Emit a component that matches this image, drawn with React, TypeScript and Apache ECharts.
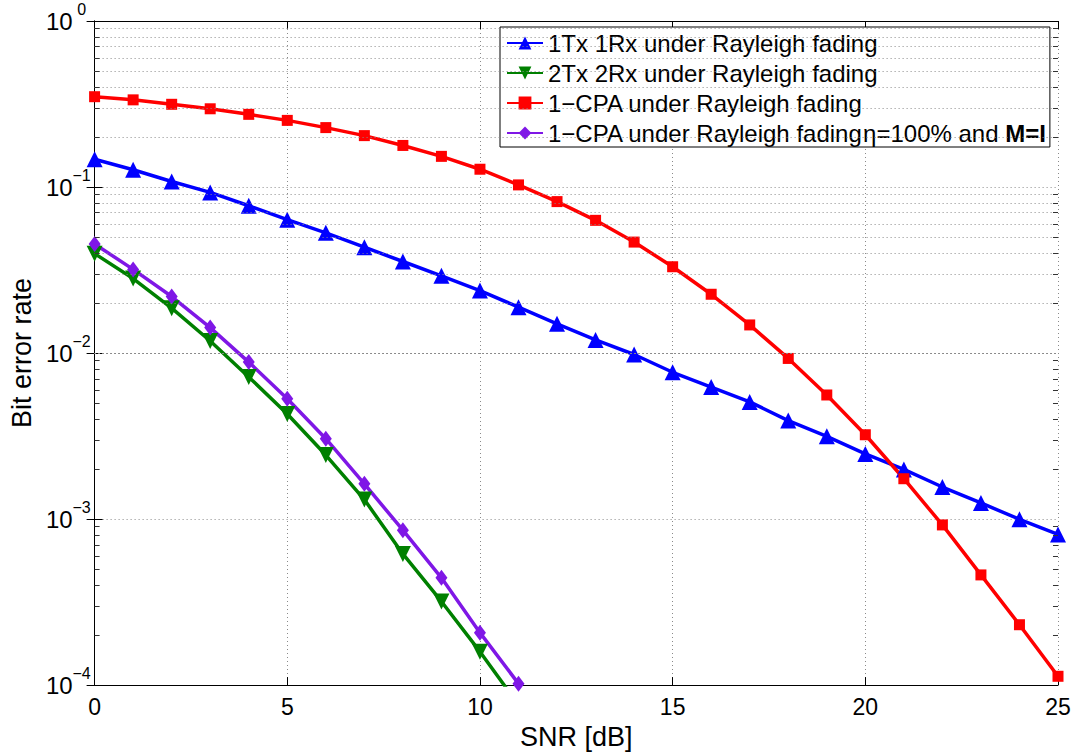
import React, { useEffect, useRef } from "react";
import * as echarts from "echarts";

const snr = [0, 1, 2, 3, 4, 5, 6, 7, 8, 9, 10, 11, 12, 13, 14, 15, 16, 17, 18, 19, 20, 21, 22, 23, 24, 25];
const ber1x1 = [0.147, 0.127, 0.108, 0.0928, 0.0771, 0.0636, 0.053, 0.0434, 0.0356, 0.0292, 0.0238, 0.0189, 0.015, 0.012, 0.0098, 0.00766, 0.00624, 0.00508, 0.00392, 0.00315, 0.00247, 0.00199, 0.00156, 0.00125, 0.000997, 0.000808];
const ber2x2 = [0.0397, 0.0281, 0.01864, 0.01182, 0.00718, 0.00429, 0.00243, 0.00131, 0.000617, 0.000319, 0.000159, 0.000076];
const berCpa = [0.35, 0.335, 0.315, 0.296, 0.274, 0.252, 0.228, 0.204, 0.178, 0.153, 0.128, 0.103, 0.0817, 0.063, 0.0466, 0.0331, 0.0226, 0.01477, 0.00928, 0.00559, 0.00322, 0.00175, 0.000922, 0.000461, 0.000231, 0.000113];
const berCpaIdeal = [0.0454, 0.0319, 0.0219, 0.01423, 0.00882, 0.0053, 0.00305, 0.00163, 0.000857, 0.000443, 0.000207, 0.000102];

const seriesNames = [
  "1Tx 1Rx under Rayleigh fading",
  "2Tx 2Rx under Rayleigh fading",
  "1−CPA under Rayleigh fading",
  "1−CPA ideal",
];
const minorDecades = [-4, -3, -2, -1];
const minorMantissas = [2, 3, 4, 5, 6, 7, 8, 9];

const FONT = "'Liberation Sans', Arial, Helvetica, sans-serif";

function pairs(ys: number[]) {
  return ys.map((y, i) => [snr[i], y]);
}

export default function App() {
  const ref = useRef<HTMLDivElement>(null);
  useEffect(() => {
    if (!ref.current) return;
    const chart = echarts.init(ref.current, undefined, { renderer: "svg" });
    const minorValues: number[] = [];
    minorDecades.forEach((d) =>
      minorMantissas.forEach((m) => minorValues.push(m * Math.pow(10, d)))
    );
    const minorLines = minorValues.map((v) => ({ yAxis: v }));
    const minorTicks: any[] = [];
    minorValues.forEach((v) => {
      minorTicks.push([{ coord: [0, v] }, { coord: [0.13, v] }]);
      minorTicks.push([{ coord: [24.87, v] }, { coord: [25, v] }]);
    });
    const dotted = { type: [1, 3] as any, color: "#8a8a8a", width: 1 };
    const option: any = {
      animation: false,
      backgroundColor: "#fff",
      textStyle: { fontFamily: FONT },
      grid: { left: 90, right: 16, top: 21, bottom: 62, containLabel: false },
      legend: {
        orient: "vertical",
        left: 500,
        top: 27,
        padding: [4, 4, 2, 6],
        itemGap: 6,
        itemWidth: 36,
        itemHeight: 16,
        backgroundColor: "#fff",
        borderColor: "#000",
        borderWidth: 1,
        borderRadius: 0,
        data: seriesNames,
        textStyle: {
          fontSize: 24,
          lineHeight: 23,
          color: "#000",
          fontFamily: FONT,
          rich: {
            n: { fontSize: 24, fontFamily: FONT, color: "#000" },
            b: { fontSize: 24, fontFamily: FONT, color: "#000", fontWeight: "bold" },
          },
        },
        formatter: (name: string) =>
          name === seriesNames[3]
            ? "{n|1−CPA under Rayleigh fading}{n|η=100% and }{b|M=I}"
            : name,
      },
      xAxis: [
        {
          type: "value",
          min: 0,
          max: 25,
          interval: 5,
          name: "SNR [dB]",
          nameLocation: "middle",
          nameGap: 30,
          nameTextStyle: { fontSize: 27, color: "#000", fontFamily: FONT },
          axisLine: { show: true, lineStyle: { color: "#000", width: 1 } },
          axisTick: { show: true, inside: true, length: 8, lineStyle: { color: "#000" } },
          axisLabel: { fontSize: 23, color: "#000", margin: 10, fontFamily: FONT },
          splitLine: { show: true, lineStyle: dotted },
        },
        {
          type: "value",
          position: "top",
          min: 0,
          max: 25,
          interval: 5,
          axisLine: { show: true, lineStyle: { color: "#000", width: 1 } },
          axisTick: { show: true, inside: true, length: 8, lineStyle: { color: "#000" } },
          axisLabel: { show: false },
          splitLine: { show: false },
        },
      ],
      yAxis: [
        {
          type: "log",
          logBase: 10,
          min: 1e-4,
          max: 1,
          name: "Bit error rate",
          nameLocation: "middle",
          nameGap: 55,
          nameTextStyle: { fontSize: 27, color: "#000", fontFamily: FONT },
          axisLine: { show: true, lineStyle: { color: "#000", width: 1 } },
          axisTick: { show: true, inside: true, length: 8, lineStyle: { color: "#000" } },
          axisLabel: {
            margin: 4,
            color: "#000",
            formatter: (v: number) => {
              const e = Math.round(Math.log10(v));
              return "{b|10}{s|" + (e === 0 ? "0" : "−" + -e) + "}";
            },
            rich: {
              b: { fontSize: 24, lineHeight: 40, color: "#000", fontFamily: FONT },
              s: {
                fontSize: 16,
                lineHeight: 17,
                verticalAlign: "top",
                width: 18,
                align: "left",
                color: "#000",
                fontFamily: FONT,
              },
            },
          },
          splitLine: { show: true, lineStyle: dotted },
        },
        {
          type: "log",
          logBase: 10,
          min: 1e-4,
          max: 1,
          position: "right",
          axisLine: { show: true, lineStyle: { color: "#000", width: 1 } },
          axisTick: { show: true, inside: true, length: 8, lineStyle: { color: "#000" } },
          axisLabel: { show: false },
          splitLine: { show: false },
        },
      ],
      series: [
        {
          type: "line",
          name: "minor-grid",
          data: [],
          z: 1,
          silent: true,
          markLine: {
            silent: true,
            symbol: ["none", "none"],
            label: { show: false },
            lineStyle: dotted,
            animation: false,
            data: minorLines,
          },
        },
        {
          type: "line",
          name: "minor-ticks",
          data: [],
          z: 2,
          silent: true,
          markLine: {
            silent: true,
            symbol: ["none", "none"],
            label: { show: false },
            lineStyle: { type: "solid", color: "#333", width: 1 },
            animation: false,
            data: minorTicks,
          },
        },
        {
          type: "line",
          name: seriesNames[0],
          data: pairs(ber1x1),
          color: "#0000ff",
          lineStyle: { width: 3.5, color: "#0000ff" },
          symbol: "triangle",
          symbolSize: 16,
          itemStyle: { color: "#0000ff" },
          z: 3,
        },
        {
          type: "line",
          name: seriesNames[1],
          data: pairs(ber2x2),
          color: "#008000",
          lineStyle: { width: 3.5, color: "#008000" },
          symbol: "triangle",
          symbolRotate: 180,
          symbolSize: 16,
          itemStyle: { color: "#008000" },
          z: 3,
        },
        {
          type: "line",
          name: seriesNames[2],
          data: pairs(berCpa),
          color: "#ff0000",
          lineStyle: { width: 3.5, color: "#ff0000" },
          symbol: "rect",
          symbolSize: 11,
          itemStyle: { color: "#ff0000" },
          z: 3,
        },
        {
          type: "line",
          name: seriesNames[3],
          data: pairs(berCpaIdeal),
          color: "#7f17e6",
          lineStyle: { width: 3.5, color: "#7f17e6" },
          symbol: "diamond",
          symbolSize: [12, 16],
          itemStyle: { color: "#7f17e6" },
          z: 3,
        },
      ],
    };
    chart.setOption(option);
    return () => chart.dispose();
  }, []);
  return (
    <div
      ref={ref}
      style={{ position: "absolute", left: 0, top: 0, width: 1074, height: 755, background: "#fff" }}
    />
  );
}
